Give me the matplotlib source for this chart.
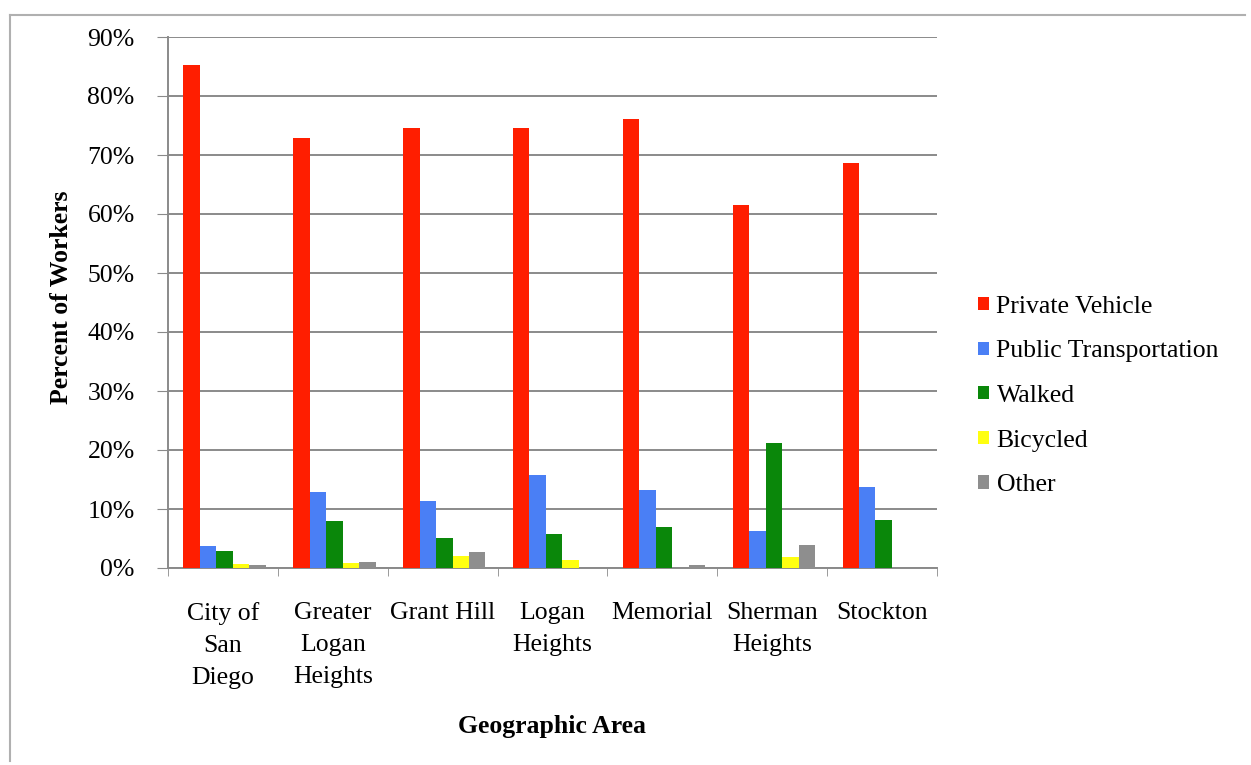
import matplotlib.pyplot as plt
import numpy as np
from matplotlib.patches import Patch
from matplotlib.lines import Line2D
from matplotlib.ticker import FuncFormatter

areas = ["City of\nSan\nDiego", "Greater\nLogan\nHeights", "Grant Hill",
         "Logan\nHeights", "Memorial", "Sherman\nHeights", "Stockton"]
modes = ["Private Vehicle", "Public Transportation", "Walked", "Bicycled", "Other"]
private_vehicle = [85.3, 72.9, 74.6, 74.5, 76.1, 61.6, 68.6]
public_transport = [3.8, 12.8, 11.4, 15.8, 13.2, 6.3, 13.8]
walked = [2.8, 7.9, 5.1, 5.7, 6.9, 21.2, 8.1]
bicycled = [0.7, 0.8, 2.0, 1.35, 0.0, 1.9, 0.0]
other = [0.5, 1.1, 2.7, 0.0, 0.45, 3.9, 0.0]
colors = ["#ff1e00", "#4a7ff5", "#0a870a", "#ffff10", "#8e8e8e"]

plt.rcParams["font.family"] = ["Liberation Serif", "DejaVu Serif"]
fs = 18.5

fig = plt.figure(figsize=(12.51, 7.65), dpi=100)
ax = fig.add_axes([168 / 1251, 1 - 568 / 765, (937 - 168) / 1251, (568 - 37) / 765])

series = [private_vehicle, public_transport, walked, bicycled, other]
x = np.arange(len(areas))
w = 0.15
for i, (vals, col) in enumerate(zip(series, colors)):
    ax.bar(x - 0.36 + w / 2 + i * w, vals, width=w, color=col, zorder=3)

ax.set_xlim(-0.5, len(areas) - 0.5)
ax.set_ylim(0, 90)
ax.set_yticks(np.arange(0, 91, 10))
ax.yaxis.set_major_formatter(FuncFormatter(lambda v, p: f"{v:.0f}%"))
ax.grid(axis="y", color="#8a8a8a", lw=1.4, zorder=1)
ax.set_xticks(x)
ax.set_xticklabels(areas, fontsize=fs)
for t in ax.get_xticklabels():
    t.set_linespacing(1.6)
ax.set_xticks(np.arange(-0.5, len(areas)), minor=True)
ax.tick_params(axis="x", which="major", length=0, pad=24.5)
ax.tick_params(axis="x", which="minor", length=6, color="#8a8a8a", direction="out")
ax.tick_params(axis="y", labelsize=fs, length=8, color="#8a8a8a", pad=16)
for s in ["top", "right"]:
    ax.spines[s].set_visible(False)
for s in ["left", "bottom"]:
    ax.spines[s].set_color("#8a8a8a")
    ax.spines[s].set_linewidth(1.4)

fig.text(62 / 1251, 1 - 297 / 765, "Percent of Workers", rotation=90,
         ha="center", va="center", fontsize=fs, fontweight="bold")
fig.text(552 / 1251, 1 - 727 / 765, "Geographic Area",
         ha="center", va="center", fontsize=fs, fontweight="bold")

handles = [Patch(facecolor=c, edgecolor="none") for c in colors]
fig.legend(handles, modes, loc="center left", bbox_to_anchor=(978 / 1251, 1 - 396 / 765),
           frameon=False, fontsize=fs, handlelength=0.42, handleheight=0.42,
           handletextpad=0.3, labelspacing=0.88, borderpad=0, borderaxespad=0)

# page frame around the chart
fig.add_artist(Line2D([10 / 1251, 10 / 1251], [0.005, 1 - 15 / 765],
                      transform=fig.transFigure, color="#b0b0b0", lw=1.5))
fig.add_artist(Line2D([10 / 1251, 1245 / 1251], [1 - 15 / 765, 1 - 15 / 765],
                      transform=fig.transFigure, color="#b0b0b0", lw=1.5))

fig.savefig("out.png", dpi=100)
